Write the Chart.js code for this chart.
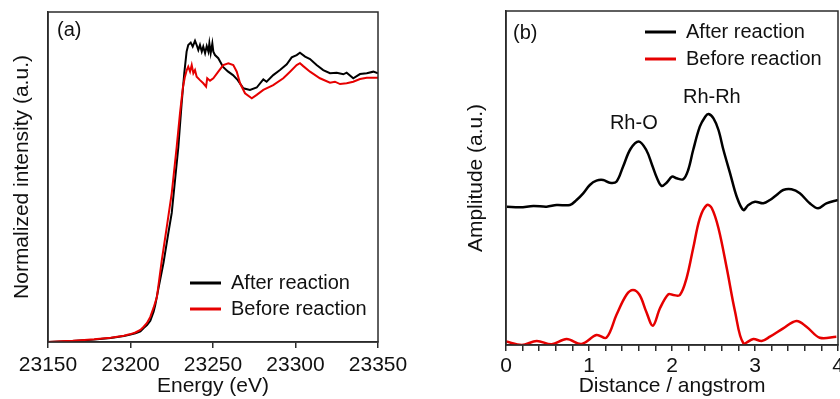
<!DOCTYPE html>
<html>
<head>
<meta charset="utf-8">
<script src="https://cdn.jsdelivr.net/npm/chart.js@4.4.1/dist/chart.umd.min.js"></script>
<style>
  html, body { margin: 0; padding: 0; background: #fff; }
  #wrap { position: relative; width: 840px; height: 399px; overflow: hidden; }
  #wrap canvas { position: absolute; top: 0; }
</style>
</head>
<body>
<div id="wrap">
  <canvas id="xanes" width="420" height="399" style="left:0"></canvas>
  <canvas id="ft" width="420" height="399" style="left:420px"></canvas>
</div>
<script>
// (a) Rh K-edge XANES
const afterEnergy = [23150, 23158, 23165, 23172, 23178, 23183, 23188, 23192, 23196, 23200,
  23203, 23206, 23208, 23210, 23212, 23214, 23215, 23217, 23220, 23223, 23225, 23227, 23229,
  23231, 23232.6, 23234, 23235, 23236.5, 23237.7, 23239.1, 23240.1, 23241.1, 23242.1, 23243.2,
  23244.1, 23245.2, 23246.2, 23247.2, 23247.8, 23248.6, 23249.6, 23250.2, 23251.2, 23253.2,
  23256.1, 23259, 23262.1, 23265, 23268.4, 23272.4, 23276.5, 23280.5, 23282.5, 23286.5,
  23290.6, 23294.7, 23297.7, 23300.7, 23302.7, 23305.8, 23308.8, 23312.8, 23316.8, 23320.9,
  23325, 23329, 23331, 23335, 23339.1, 23343.2, 23347.2, 23350];
const afterMu = [0.000, 0.002, 0.004, 0.007, 0.009, 0.012, 0.015, 0.019, 0.023, 0.028,
  0.033, 0.040, 0.053, 0.064, 0.080, 0.115, 0.140, 0.205, 0.300, 0.415, 0.489, 0.614, 0.739,
  0.905, 1.019, 1.100, 1.125, 1.134, 1.119, 1.141, 1.125, 1.106, 1.125, 1.100,
  1.119, 1.094, 1.121, 1.100, 1.131, 1.094, 1.131, 1.100, 1.087, 1.075,
  1.042, 1.025, 1.011, 0.992, 0.961, 0.955, 0.964, 0.995, 0.986, 1.011,
  1.030, 1.052, 1.078, 1.087, 1.096, 1.081, 1.072, 1.049, 1.030, 1.018,
  1.020, 1.014, 1.020, 0.999, 1.015, 1.018, 1.024, 1.018];

const beforeEnergy = [23150, 23158, 23165, 23172, 23178, 23183, 23188, 23192, 23196, 23200,
  23203, 23206, 23208, 23210, 23212, 23214, 23216, 23219, 23222, 23225, 23228, 23230, 23231.8,
  23233, 23234.1, 23235, 23236.1, 23237.1, 23238.1, 23239.1, 23240.1, 23242.1, 23244.1,
  23245.8, 23246.5, 23248.2, 23250.2, 23253.2, 23256.2, 23259.3, 23262.3, 23264.4, 23266.4,
  23269.4, 23273.5, 23276.5, 23280.5, 23286.5, 23292.6, 23296.7, 23300.7, 23302.7, 23304.7,
  23308.8, 23314.8, 23320.9, 23323.9, 23327, 23331, 23335, 23339.1, 23343.2, 23350];
const beforeMu = [0.000, 0.003, 0.005, 0.008, 0.010, 0.013, 0.016, 0.020, 0.024, 0.030,
  0.036, 0.046, 0.058, 0.072, 0.095, 0.130, 0.170, 0.311, 0.436, 0.564, 0.739, 0.867, 0.966,
  1.005, 1.030, 1.043, 1.024, 1.049, 1.018, 1.030, 1.005, 0.992, 0.980,
  0.967, 0.999, 0.990, 0.999, 1.024, 1.049, 1.056, 1.049, 1.024, 0.980,
  0.942, 0.923, 0.936, 0.955, 0.973, 0.999, 1.024, 1.049, 1.056, 1.045,
  1.024, 0.999, 0.982, 0.986, 0.977, 0.980, 0.986, 0.996, 1.001, 1.001];

// (b) Fourier transform magnitude
const afterR = [0.01, 0.17, 0.33, 0.49, 0.61, 0.77, 0.85, 0.93, 1.01, 1.09, 1.17, 1.25, 1.33,
  1.41, 1.50, 1.60, 1.69, 1.76, 1.82, 1.875, 1.935, 2.0, 2.055, 2.135, 2.195, 2.255,
  2.335, 2.4, 2.44, 2.5, 2.56, 2.62, 2.70, 2.78, 2.86, 2.92, 3.0, 3.1, 3.18, 3.26, 3.34, 3.44,
  3.54, 3.66, 3.76, 3.86, 4.0];
const afterAmp = [1.383, 1.377, 1.390, 1.383, 1.400, 1.400, 1.450, 1.517, 1.600, 1.643, 1.650,
  1.623, 1.633, 1.783, 1.960, 2.035, 1.950, 1.800, 1.667, 1.590, 1.623, 1.683, 1.667,
  1.657, 1.750, 1.950, 2.183, 2.283, 2.310, 2.267, 2.150, 1.950, 1.717, 1.483, 1.350, 1.400,
  1.433, 1.417, 1.450, 1.500, 1.550, 1.557, 1.517, 1.417, 1.367, 1.417, 1.450];

const beforeR = [0.0, 0.19, 0.37, 0.55, 0.73, 0.91, 1.09, 1.21, 1.33, 1.45, 1.53, 1.61, 1.69,
  1.77, 1.855, 1.955, 2.015, 2.095, 2.175, 2.255, 2.335, 2.42, 2.48, 2.56, 2.66, 2.76, 2.86,
  2.98, 3.08, 3.18, 3.34, 3.50, 3.62, 3.78, 3.98];
const beforeAmp = [0.035, 0.0, 0.040, 0.007, 0.060, 0.010, 0.100, 0.073, 0.300, 0.500, 0.550,
  0.500, 0.333, 0.193, 0.367, 0.507, 0.500, 0.500, 0.667, 0.967, 1.267, 1.400, 1.367, 1.167,
  0.767, 0.333, 0.017, 0.060, 0.040, 0.083, 0.167, 0.240, 0.183, 0.073, 0.083];

const seriesNames = ['After reaction', 'Before reaction'];
const seriesColors = ['#000000', '#e60000'];

function pts(xs, ys) {
  return xs.map((x, i) => ({ x: x, y: ys[i] }));
}

Chart.defaults.font.family = "'Liberation Sans', Arial, sans-serif";
Chart.defaults.color = '#111';
const axisColor = '#2b2b2b';

const framePlugin = {
  id: 'frame',
  afterDraw(chart) {
    const { ctx, chartArea: a } = chart;
    ctx.save();
    ctx.strokeStyle = axisColor;
    ctx.lineWidth = 1.5;
    ctx.strokeRect(a.left, a.top, a.right - a.left, a.bottom - a.top);
    ctx.restore();
  }
};

// legend + panel tag + peak labels
function drawExtras(chart, datasets, opts) {
  const ctx = chart.ctx;
  ctx.save();
  ctx.font = "20px 'Liberation Sans', Arial, sans-serif";
  ctx.fillStyle = '#111';
  ctx.textBaseline = 'middle';
  ctx.textAlign = 'left';
  ctx.fillText(opts.tag, opts.tagX, opts.tagY);
  datasets.forEach((ds, i) => {
    const y = opts.legY + i * opts.legGap;
    ctx.strokeStyle = ds.borderColor;
    ctx.lineWidth = 3;
    ctx.beginPath();
    ctx.moveTo(opts.legX, y);
    ctx.lineTo(opts.legX + 31, y);
    ctx.stroke();
    ctx.fillText(ds.label, opts.legX + 41, y);
  });
  ctx.textAlign = 'center';
  (opts.notes || []).forEach(n => {
    const px = chart.scales.x.getPixelForValue(n.x);
    const py = chart.scales.y.getPixelForValue(n.y);
    ctx.fillText(n.text, px, py);
  });
  ctx.restore();
}

const extrasPlugin = {
  id: 'extras',
  afterDraw(chart, args, opts) {
    // legend order follows seriesNames, whatever the drawing order
    const ds = chart.data.datasets.slice().sort((a, b) =>
      seriesNames.indexOf(a.label) - seriesNames.indexOf(b.label));
    drawExtras(chart, ds, opts);
  }
};

function xAxis(min, max, step, title, height, fmt, pad) {
  return {
    type: 'linear', min: min, max: max,
    afterFit: s => { s.height = height; s.paddingLeft = 0; s.paddingRight = 0; },
    ticks: { stepSize: step, autoSkip: false, maxRotation: 0, padding: pad,
      color: '#111', font: { size: 21 }, callback: fmt },
    grid: { display: true, drawOnChartArea: false, drawTicks: true, tickLength: 6,
      color: axisColor, lineWidth: 1.5 },
    border: { display: true, color: axisColor, width: 1.5 },
    title: { display: true, text: title, font: { size: 21 }, color: '#111',
      padding: { top: 0, bottom: 0 } }
  };
}

function yAxis(max, title, width, tpad) {
  return {
    type: 'linear', min: 0, max: max,
    afterFit: s => { s.width = width; },
    ticks: { display: false },
    grid: { display: false },
    border: { display: true, color: axisColor, width: 1.5 },
    title: { display: true, text: title, font: { size: 21 }, color: '#111',
      padding: { top: tpad, bottom: 0 } }
  };
}

new Chart(document.getElementById('xanes'), {
  type: 'line',
  data: {
    datasets: [
      // red first so the black curve sits on top
      { label: seriesNames[1], data: pts(beforeEnergy, beforeMu), borderColor: seriesColors[1],
        borderWidth: 2, pointRadius: 0, tension: 0 },
      { label: seriesNames[0], data: pts(afterEnergy, afterMu), borderColor: seriesColors[0],
        borderWidth: 2, pointRadius: 0, tension: 0 }
    ]
  },
  options: {
    responsive: false, animation: false,
    layout: { padding: { left: 0, top: 12, right: 42, bottom: 0 } },
    scales: {
      x: xAxis(23150, 23350, 50, 'Energy (eV)', 57, v => String(v), 5),
      y: yAxis(1.25, 'Normalized intensity (a.u.)', 48, 10)
    },
    plugins: {
      legend: { display: false }, tooltip: { enabled: false },
      extras: { tag: '(a)', tagX: 57, tagY: 30, legX: 190, legY: 283, legGap: 26 }
    }
  },
  plugins: [framePlugin, extrasPlugin]
});

new Chart(document.getElementById('ft'), {
  type: 'line',
  data: {
    datasets: [
      { label: seriesNames[0], data: pts(afterR, afterAmp), borderColor: seriesColors[0],
        borderWidth: 2.5, pointRadius: 0, tension: 0.35 },
      { label: seriesNames[1], data: pts(beforeR, beforeAmp), borderColor: seriesColors[1],
        borderWidth: 2.5, pointRadius: 0, tension: 0.35 }
    ]
  },
  options: {
    responsive: false, animation: false,
    layout: { padding: { left: 0, top: 11, right: 2, bottom: 0 } },
    scales: {
      x: xAxis(0, 4, 0.2, 'Distance / angstrom', 54,
        v => Math.abs(v - Math.round(v)) < 1e-6 ? String(Math.round(v)) : '', 3),
      y: yAxis(3.34, 'Amplitude (a.u.)', 86, 44)
    },
    plugins: {
      legend: { display: false }, tooltip: { enabled: false },
      extras: { tag: '(b)', tagX: 93, tagY: 33, legX: 225, legY: 32, legGap: 27,
        notes: [{ x: 1.54, y: 2.22, text: 'Rh-O' }, { x: 2.48, y: 2.48, text: 'Rh-Rh' }] }
    }
  },
  plugins: [framePlugin, extrasPlugin]
});
</script>
</body>
</html>
